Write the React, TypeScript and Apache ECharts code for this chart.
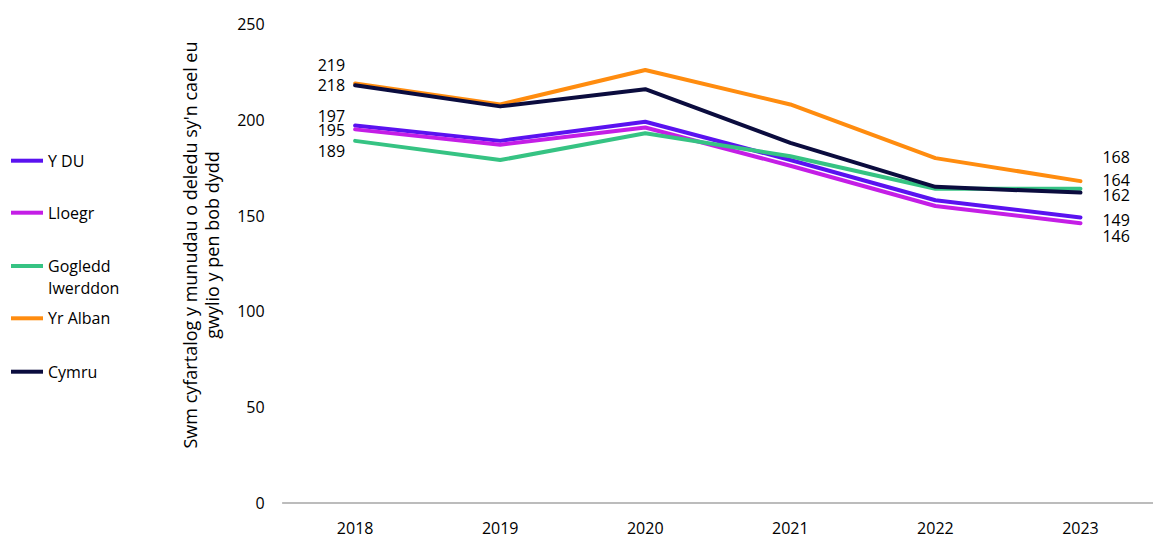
import React, { useEffect, useRef } from "react";
import * as echarts from "echarts";

// ---- data ----
const years = ["2018", "2019", "2020", "2021", "2022", "2023"];
const seriesNames = ["Y DU", "Lloegr", "Gogledd Iwerddon", "Yr Alban", "Cymru"];
const yDu = [197, 189, 199, 179, 158, 149];
const lloegr = [195, 187, 196, 176, 155, 146];
const gogleddIwerddon = [189, 179, 193, 181, 164, 164];
const yrAlban = [219, 208, 226, 208, 180, 168];
const cymru = [218, 207, 216, 188, 165, 162];
const yTicks = [0, 50, 100, 150, 200, 250];
const yTitle = "Swm cyfartalog y munudau o deledu sy'n cael eu\ngwylio y pen bob dydd";

// ---- styles ----
const FONT = "'Open Sans', 'Noto Sans', sans-serif";
const colors = ["#5a12f0", "#c41ee6", "#36c383", "#ff8c0f", "#0b0c3e"];
const startLabelDy = [-10, 1, 10, -18.5, 0];
const endLabelDy = [2.8, 13, -8.4, -23.7, 2.7];
const legendCenters = [160.7, 212.7, 266, 318.3, 371.7];

export default function App() {
  const ref = useRef<HTMLDivElement>(null);

  useEffect(() => {
    document.body.style.margin = "0";
    if (!ref.current) return;
    const chart = echarts.init(ref.current, undefined, { renderer: "svg" });
    const values = [yDu, lloegr, gogleddIwerddon, yrAlban, cymru];
    const last = years.length - 1;

    const labelBase = { show: true, color: "#000", fontSize: 16, lineHeight: 14, fontFamily: FONT };

    const series = seriesNames.map((name, i) => ({
      name,
      type: "line",
      symbol: "circle",
      symbolSize: 0,
      showSymbol: true,
      lineStyle: { width: 4, color: colors[i], cap: "round", join: "round" },
      itemStyle: { color: colors[i] },
      emphasis: { disabled: true },
      data: values[i].map((v, j) => {
        if (j === 0) {
          return {
            value: v,
            label: { ...labelBase, position: "left", distance: 10, offset: [0, startLabelDy[i]] },
          };
        }
        if (j === last) {
          return {
            value: v,
            label: { ...labelBase, position: "right", distance: 13, offset: [9, endLabelDy[i]] },
          };
        }
        return v;
      }),
    }));

    const legends = seriesNames.map((name, i) => {
      const twoLine = name === "Gogledd Iwerddon";
      return {
        data: [name],
        left: 11,
        top: twoLine ? legendCenters[i] - 33 : legendCenters[i] - 11,
        padding: 0,
        icon: "rect",
        itemWidth: 32,
        itemHeight: 4,
        selectedMode: false,
        formatter: (n: string) => (n === "Gogledd Iwerddon" ? " \nGogledd\nIwerddon" : n),
        textStyle: {
          color: "#000",
          fontSize: 16,
          fontFamily: FONT,
          lineHeight: 22,
        },
      };
    });

    chart.setOption({
      animation: false,
      backgroundColor: "#fff",
      textStyle: { fontFamily: FONT },
      legend: legends,
      grid: { left: 282.6, right: -10.6, top: 24, bottom: 32, containLabel: false },
      xAxis: {
        type: "category",
        data: years,
        boundaryGap: true,
        axisLine: { show: true, lineStyle: { color: "#a6a6a6", width: 1.5 } },
        axisTick: { show: false },
        axisLabel: { color: "#000", fontSize: 16, lineHeight: 16, fontFamily: FONT, margin: 17 },
        splitLine: { show: false },
      },
      yAxis: {
        type: "value",
        min: yTicks[0],
        max: yTicks[yTicks.length - 1],
        interval: yTicks[1] - yTicks[0],
        axisLine: { show: false },
        axisTick: { show: false },
        splitLine: { show: false },
        axisLabel: { color: "#000", fontSize: 16, fontFamily: FONT, margin: 18 },
      },
      graphic: [
        {
          type: "text",
          x: 201,
          y: 245,
          rotation: Math.PI / 2,
          style: {
            text: yTitle,
            fill: "#000",
            fontSize: 18,
            fontFamily: FONT,
            lineHeight: 22,
            align: "center",
            verticalAlign: "middle",
          },
        },
      ],
      series,
    });

    return () => chart.dispose();
  }, []);

  return (
    <div
      ref={ref}
      style={{ position: "absolute", left: 0, top: 0, width: 1153, height: 536 }}
    />
  );
}
